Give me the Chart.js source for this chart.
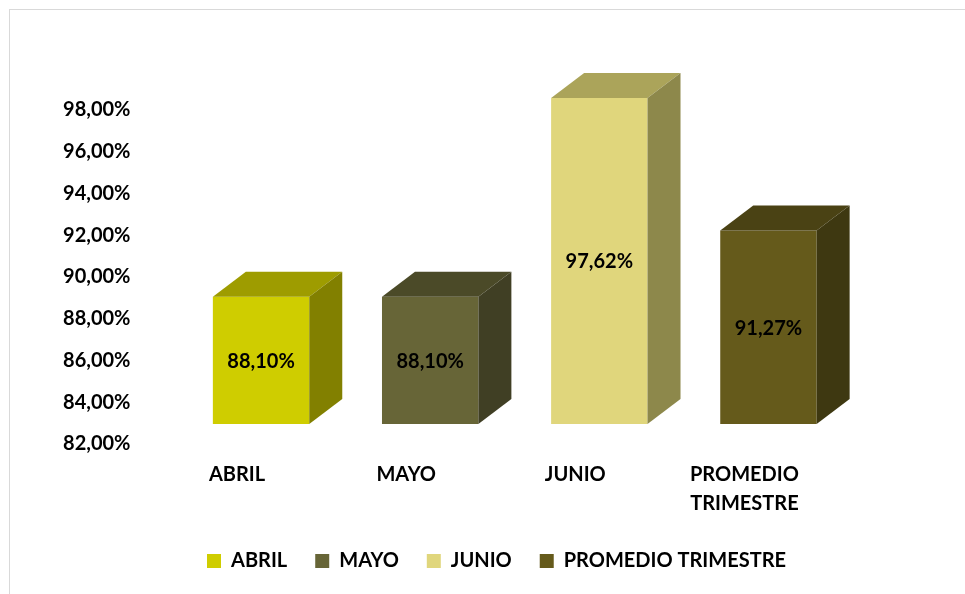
<!DOCTYPE html>
<html>
<head>
<meta charset="utf-8">
<script src="https://cdn.jsdelivr.net/npm/chart.js@4.4.1/dist/chart.umd.min.js"></script>
<style>
    html, body { margin: 0; padding: 0; background: #fff; overflow: hidden; }
    #frame { position: absolute; left: 9px; top: 9px; width: 1000px; height: 620px; border: 1px solid #d9d9d9; }
    #wrap { position: absolute; left: 0; top: 0; width: 965px; height: 594px; }
</style>
</head>
<body>
<div id="frame"></div>
<div id="wrap"><canvas id="myChart" width="965" height="594"></canvas></div>
<script>
const categories = ['ABRIL', 'MAYO', 'JUNIO', ['PROMEDIO', 'TRIMESTRE']];
const seriesNames = ['ABRIL', 'MAYO', 'JUNIO', 'PROMEDIO TRIMESTRE'];
const values = [88.10, 88.10, 97.62, 91.27];
const yTicks = [82, 84, 86, 88, 90, 92, 94, 96, 98];

const frontColors = ['#cfcd00', '#676537', '#e0d67c', '#655a1b'];
const topColors = ['#9e9c00', '#4b4a28', '#aba45a', '#4a4214'];
const sideColors = ['#828000', '#403f24', '#8d884b', '#3e3811'];

const fmt = v => v.toFixed(2).replace('.', ',') + '%';

// one dataset per month so the legend gets four entries
const datasets = seriesNames.map((name, i) => ({
    label: name,
    data: values.map((v, j) => (j === i ? v : null)),
    backgroundColor: frontColors[i],
    borderWidth: 0,
    base: yTicks[0],
    grouped: false,
    barPercentage: 0.57,
    categoryPercentage: 1,
}));

// draws the top and side faces + the value label on each bar
const boxes3d = {
    id: 'boxes3d',
    afterDatasetsDraw(chart) {
        const ctx = chart.ctx;
        const dx = 33, dy = -25;
        chart.data.datasets.forEach((ds, i) => {
            const meta = chart.getDatasetMeta(i);
            meta.data.forEach((bar, j) => {
                if (ds.data[j] == null) return;
                const p = bar.getProps(['x', 'y', 'base', 'width'], true);
                const l = p.x - p.width / 2, r = p.x + p.width / 2;
                ctx.save();
                ctx.fillStyle = topColors[i];
                ctx.beginPath();
                ctx.moveTo(l, p.y);
                ctx.lineTo(l + dx, p.y + dy);
                ctx.lineTo(r + dx, p.y + dy);
                ctx.lineTo(r, p.y);
                ctx.closePath();
                ctx.fill();
                ctx.fillStyle = sideColors[i];
                ctx.beginPath();
                ctx.moveTo(r, p.y);
                ctx.lineTo(r + dx, p.y + dy);
                ctx.lineTo(r + dx, p.base + dy);
                ctx.lineTo(r, p.base);
                ctx.closePath();
                ctx.fill();
                ctx.fillStyle = '#000';
                ctx.font = 'bold 20px Lato';
                ctx.textAlign = 'center';
                ctx.textBaseline = 'middle';
                ctx.fillText(fmt(ds.data[j]), p.x, (p.y + p.base) / 2 + 1);
                ctx.restore();
            });
        });
    }
};

const options = {
    responsive: false,
    animation: false,
    layout: {
        padding: { left: 28, right: 0, top: 90, bottom: 13 }
    },
    plugins: {
        legend: {
            position: 'bottom',
            labels: {
                color: '#000',
                font: { family: 'Lato', size: 20, weight: 'bold' },
                boxWidth: 14,
                boxHeight: 14,
                padding: 28,
            }
        },
        tooltip: { enabled: false }
    },
    scales: {
        x: {
            grid: { display: false, drawTicks: false },
            border: { display: false },
            ticks: {
                color: '#000',
                font: { family: 'Lato', size: 20, weight: 'bold', lineHeight: 1.45 },
                padding: 36,
                labelOffset: -24,
                maxRotation: 0,
            },
            afterFit: s => { s.height = 99; }
        },
        y: {
            min: 82,
            max: 98,
            grid: { display: false, drawTicks: false },
            border: { display: false },
            afterBuildTicks: s => { s.ticks = yTicks.map(v => ({ value: v })); },
            afterFit: s => { s.width = 148.5; },
            ticks: {
                color: '#000',
                font: { family: 'Lato', size: 20, weight: 'bold' },
                padding: 46,
                labelOffset: 20,
                callback: v => fmt(v)
            }
        },
        // empty space on the right, like the original plot area
        yRight: {
            position: 'right',
            grid: { display: false, drawTicks: false },
            border: { display: false },
            ticks: { display: false },
            afterFit: s => { s.width = 112; }
        }
    }
};

new Chart(document.getElementById('myChart').getContext('2d'), {
    type: 'bar',
    data: { labels: categories, datasets: datasets },
    options: options,
    plugins: [boxes3d]
});
</script>
</body>
</html>
